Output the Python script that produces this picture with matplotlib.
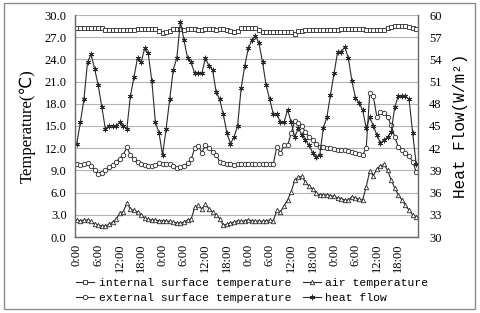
import matplotlib.pyplot as plt
import numpy as np
from matplotlib.patches import Rectangle

# hourly readings over four days
hour_labels = ["0:00", "6:00", "12:00", "18:00"] * 4

internal_surface = [
    28.3, 28.3, 28.3, 28.3, 28.3, 28.3, 28.3, 28.2, 28.0, 28.0,
    28.0, 28.0, 28.0, 28.0, 28.0, 28.0, 28.0, 28.1, 28.1, 28.1,
    28.1, 28.1, 28.1, 27.8, 27.6, 27.7, 27.8, 28.1, 28.1, 28.1,
    28.0, 28.1, 28.1, 28.1, 28.0, 28.0, 28.1, 28.1, 28.1, 28.0,
    28.1, 28.1, 28.0, 27.8, 27.7, 27.9, 28.2, 28.2, 28.2, 28.2,
    28.2, 28.0, 27.7, 27.7, 27.7, 27.7, 27.7, 27.7, 27.7, 27.7,
    27.7, 27.5, 27.9, 27.9, 28.0, 28.0, 28.0, 28.0, 28.0, 28.0,
    28.0, 28.0, 28.0, 28.0, 28.1, 28.1, 28.1, 28.1, 28.1, 28.1,
    28.1, 28.0, 28.0, 28.0, 28.0, 28.0, 28.0, 28.2, 28.4, 28.5,
    28.5, 28.5, 28.5, 28.4, 28.3, 28.1,
]

external_surface = [
    9.9, 9.7, 9.8, 10.0, 9.6, 9.0, 8.5, 8.7, 9.0, 9.4,
    9.7, 10.2, 10.6, 11.1, 12.1, 11.1, 10.6, 10.1, 9.8, 9.7,
    9.6, 9.6, 9.7, 10.0, 9.9, 9.8, 9.8, 9.6, 9.3, 9.5,
    9.6, 10.0, 10.5, 12.0, 12.3, 11.4, 12.4, 12.0, 11.5, 11.1,
    10.2, 10.0, 9.8, 9.9, 9.7, 9.8, 9.9, 9.8, 9.9, 9.8,
    9.9, 9.8, 9.8, 9.9, 9.8, 9.9, 12.2, 11.3, 12.4, 12.4,
    14.0, 15.7, 15.4, 15.0, 14.2, 13.5, 13.1, 12.6, 12.2, 12.1,
    12.0, 12.0, 11.9, 11.8, 11.8, 11.7, 11.6, 11.5, 11.3, 11.2,
    11.1, 12.0, 19.5, 19.0, 16.2, 16.9, 16.7, 16.2, 15.1, 13.5,
    12.2, 11.8, 11.3, 10.9, 10.2, 8.8,
]

air = [
    2.3, 2.2, 2.3, 2.3, 2.1, 1.8, 1.6, 1.5, 1.5, 1.7,
    2.0, 2.4, 3.2, 3.4, 4.6, 3.8, 3.6, 3.4, 3.0, 2.6,
    2.4, 2.3, 2.3, 2.2, 2.2, 2.2, 2.1, 2.0, 1.9, 1.9,
    2.0, 2.3, 2.4, 4.0, 4.3, 3.8, 4.4, 3.8, 3.4, 3.0,
    2.5, 1.6, 1.7, 1.9, 2.0, 2.2, 2.1, 2.2, 2.3, 2.2,
    2.1, 2.2, 2.1, 2.2, 2.3, 2.2, 3.6, 3.4, 4.2, 5.0,
    6.1, 7.7, 8.1, 8.2, 7.4, 6.9, 6.5, 5.9, 5.7, 5.7,
    5.7, 5.6, 5.5, 5.3, 5.2, 5.0, 5.0, 5.4, 5.3, 5.1,
    5.0, 6.8, 8.9, 8.3, 9.2, 9.6, 9.8, 9.0, 7.7, 6.6,
    5.7, 5.0, 4.3, 3.6, 3.0, 2.7,
]

heat_flow = [
    42.6, 45.5, 48.6, 53.6, 54.7, 52.7, 50.5, 47.6, 44.6, 45.0,
    45.0, 45.0, 45.5, 45.0, 44.6, 49.0, 51.6, 54.2, 53.6, 55.5,
    54.8, 51.1, 45.5, 44.1, 41.1, 44.6, 48.6, 52.6, 54.2, 59.1,
    56.6, 54.2, 53.6, 52.1, 52.1, 52.1, 54.2, 53.1, 52.6, 49.6,
    48.6, 46.6, 44.1, 42.6, 43.5, 45.0, 50.1, 53.1, 55.5, 56.6,
    57.2, 56.2, 53.6, 50.5, 48.6, 46.6, 46.6, 45.5, 45.5, 47.2,
    45.5, 43.5, 44.7, 43.8, 43.1, 42.4, 41.4, 40.8, 41.1, 44.7,
    46.2, 49.2, 52.1, 55.0, 55.0, 55.7, 54.2, 51.1, 48.8, 48.1,
    47.2, 44.7, 46.2, 45.0, 43.8, 42.7, 43.1, 43.5, 44.2, 47.6,
    49.0, 49.0, 49.0, 48.6, 44.1, 39.8,
]

x = np.arange(len(internal_surface))
serif = ["Liberation Serif", "DejaVu Sans"]
mono = ["Liberation Mono", "DejaVu Sans Mono"]
ink = "#2a2a2a"

fig = plt.figure(figsize=(4.8, 3.13), dpi=100)
fig.patches.append(Rectangle((4 / 480, 4 / 313), 471 / 480, 306 / 313,
                             transform=fig.transFigure, fill=False,
                             edgecolor="#8a8a8a", lw=1.0))
ax = fig.add_axes([75 / 480, 1 - 237 / 313, 343 / 480, 222 / 313])
ax2 = ax.twinx()

kw = dict(color=ink, lw=0.8, ms=3.2, mfc="white", mew=0.6)
l1, = ax.plot(x, internal_surface, marker="s", label="internal surface temperature", **kw)
l2, = ax.plot(x, external_surface, marker="o", label="external surface temperature", **kw)
l3, = ax.plot(x, air, marker="^", label="air temperature", **kw)
l4, = ax2.plot(x, heat_flow, marker=(6, 2, 0), label="heat flow",
               color=ink, lw=0.8, ms=4, mew=0.6)

ax.set_xlim(-0.5, len(x) - 0.5)
ax.set_ylim(0, 30)
ax2.set_ylim(30, 60)
ax.set_yticks(np.arange(0, 30.1, 3))
ax.set_yticklabels([f"{v:.1f}" for v in np.arange(0, 30.1, 3)], family=serif, fontsize=9)
ax2.set_yticks(np.arange(30, 61, 3))
ax2.set_yticklabels([str(v) for v in range(30, 61, 3)], family=serif, fontsize=9)
ax.set_xticks(x[::6])
ax.set_xticklabels(hour_labels, rotation=90, family=serif, fontsize=9)
ax.tick_params(length=0, pad=6)
ax2.tick_params(length=0, pad=8)
ax.tick_params(axis="x", pad=5)

ax.grid(axis="y", color="#b4b4b4", lw=0.8)
ax.set_axisbelow(True)
for a in (ax, ax2):
    for s in a.spines.values():
        s.set_color("#6e6e6e")
        s.set_linewidth(0.9)
    a.spines["top"].set_visible(False)

ax.set_ylabel("Temperature(℃)", family=serif, fontsize=12, labelpad=6)
ax2.set_ylabel("Heat Flow(W/m²)", family=mono, fontsize=11.5, labelpad=8)

fig.legend(handles=[l1, l2, l3, l4], ncol=2, loc="lower left",
           bbox_to_anchor=(68 / 480, 1 - 311 / 313), frameon=False,
           prop=dict(family=mono, size=8.2), handlelength=1.6,
           handletextpad=0.4, columnspacing=1.0, labelspacing=0.45,
           borderpad=0.2)

fig.savefig("out.png", dpi=100)
